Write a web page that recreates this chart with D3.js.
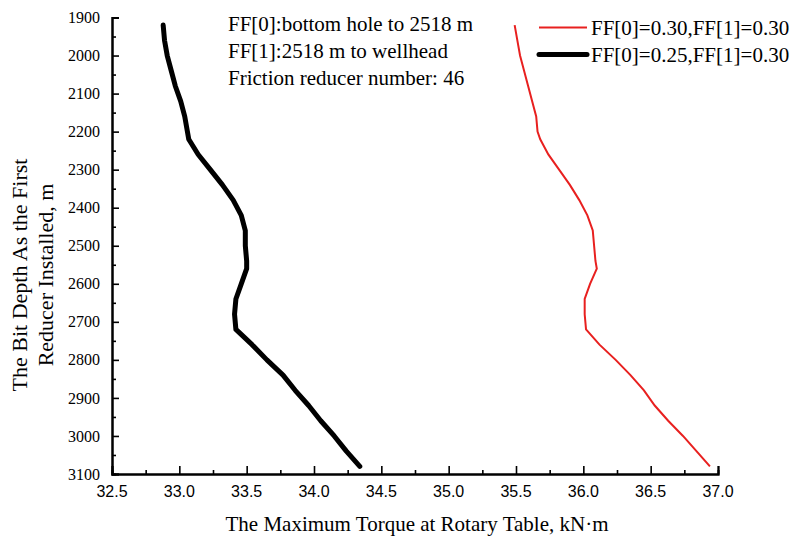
<!DOCTYPE html>
<html>
<head>
<meta charset="utf-8">
<script src="https://cdn.jsdelivr.net/npm/d3@7"></script>
<style>
  body { margin: 0; background: #fff; }
  svg { display: block; }
</style>
</head>
<body>
<div id="chart"></div>
<script>
// bit depth where the first reducer is installed, m
var depths = [1920, 1960, 2000, 2040, 2080, 2120, 2160, 2200, 2220, 2260, 2300,
    2340, 2380, 2420, 2460, 2500, 2540, 2560, 2600, 2640, 2680, 2720, 2760,
    2800, 2840, 2880, 2920, 2960, 3000, 3040, 3080];

// max torque, FF[0]=0.30, FF[1]=0.30
var torque_a = [35.49, 35.51, 35.53, 35.56, 35.59, 35.62, 35.65, 35.66, 35.68,
    35.74, 35.82, 35.90, 35.97, 36.03, 36.07, 36.08, 36.09, 36.10, 36.05, 36.01,
    36.01, 36.02, 36.12, 36.24, 36.35, 36.45, 36.53, 36.63, 36.74, 36.84, 36.94];

// max torque, FF[0]=0.25, FF[1]=0.30
var torque_b = [32.88, 32.89, 32.91, 32.94, 32.97, 33.01, 33.04, 33.06, 33.07,
    33.14, 33.23, 33.32, 33.40, 33.46, 33.49, 33.49, 33.50, 33.50, 33.46, 33.42,
    33.41, 33.42, 33.54, 33.65, 33.77, 33.86, 33.96, 34.05, 34.15, 34.24, 34.34];

var x_ticks = [32.5, 33.0, 33.5, 34.0, 34.5, 35.0, 35.5, 36.0, 36.5, 37.0];
var y_ticks = [1900, 2000, 2100, 2200, 2300, 2400, 2500, 2600, 2700, 2800, 2900, 3000, 3100];

var series_names = ["FF[0]=0.30,FF[1]=0.30", "FF[0]=0.25,FF[1]=0.30"];
var notes = ["FF[0]:bottom hole to 2518 m", "FF[1]:2518 m to wellhead", "Friction reducer number: 46"];

var w = 792, h = 539,
    m = { top: 17.5, right: 74, bottom: 65, left: 112 };

var serif = "'Liberation Serif', 'Times New Roman', serif",
    sans = "'Liberation Sans', Arial, sans-serif";

var svg = d3.select("#chart")
    .append("svg")
    .attr("width", w)
    .attr("height", h);

var x = d3.scaleLinear().domain([32.5, 37.0]).range([m.left, w - m.right]);
var y = d3.scaleLinear().domain([1900, 3100]).range([m.top, h - m.bottom]);

// minor ticks halfway between majors
var x_minor = d3.range(32.75, 37.0, 0.5);
var y_minor = d3.range(1950, 3100, 100);

// x axis, ticks point inward
var xg = svg.append("g")
    .attr("transform", "translate(0," + y(3100) + ")");
xg.append("g").call(d3.axisTop(x).tickValues(x_minor).tickSize(4).tickFormat(""));
xg.append("g").call(d3.axisTop(x).tickValues(x_ticks).tickSize(8).tickFormat(""));
xg.selectAll("path.domain").attr("stroke-width", 2);
xg.selectAll("line").attr("stroke-width", 1.6);

// x tick labels
svg.append("g").selectAll("text")
    .data(x_ticks)
    .enter().append("text")
    .attr("x", function(d) { return x(d); })
    .attr("y", y(3100) + 23)
    .attr("text-anchor", "middle")
    .style("font-family", sans)
    .style("font-size", "16px")
    .text(function(d) { return d.toFixed(1); });

// y axis, ticks point inward
var yg = svg.append("g")
    .attr("transform", "translate(" + x(32.5) + ",0)");
yg.append("g").call(d3.axisRight(y).tickValues(y_minor).tickSize(4).tickFormat(""));
yg.append("g").call(d3.axisRight(y).tickValues(y_ticks).tickSize(7).tickFormat(""));
yg.selectAll("path.domain").attr("stroke-width", 2);
yg.selectAll("line").attr("stroke-width", 1.6);

// y tick labels
svg.append("g").selectAll("text")
    .data(y_ticks)
    .enter().append("text")
    .attr("x", x(32.5) - 12)
    .attr("y", function(d) { return y(d); })
    .attr("dy", ".35em")
    .attr("text-anchor", "end")
    .style("font-family", serif)
    .style("font-size", "16px")
    .text(function(d) { return d; });

// axis titles
svg.append("text")
    .attr("x", (x(32.5) + x(37.0)) / 2 + 2)
    .attr("y", 531)
    .attr("text-anchor", "middle")
    .style("font-family", serif)
    .style("font-size", "21px")
    .text("The Maximum Torque at Rotary Table, kN\u00b7m");

var yt = svg.append("text")
    .attr("transform", "translate(27,275) rotate(-90)")
    .attr("text-anchor", "middle")
    .style("font-family", serif)
    .style("font-size", "22px");
yt.append("tspan").attr("x", 0).attr("y", 0).text("The Bit Depth As the First");
yt.append("tspan").attr("x", 0).attr("y", 26).text("Reducer Installed, m");

// the two curves
var line = d3.line()
    .x(function(d) { return x(d[1]); })
    .y(function(d) { return y(d[0]); });

svg.append("path")
    .datum(d3.zip(depths, torque_a))
    .attr("d", line)
    .attr("fill", "none")
    .attr("stroke", "#e8201f")
    .attr("stroke-width", 2);

svg.append("path")
    .datum(d3.zip(depths, torque_b))
    .attr("d", line)
    .attr("fill", "none")
    .attr("stroke", "#000")
    .attr("stroke-width", 5)
    .attr("stroke-linejoin", "round")
    .attr("stroke-linecap", "round");

// notes in the top left
svg.append("g").selectAll("text")
    .data(notes)
    .enter().append("text")
    .attr("x", 228)
    .attr("y", function(d, i) { return 31 + i * 27; })
    .style("font-family", serif)
    .style("font-size", "21px")
    .text(function(d) { return d; });

// legend
var legend_groups = svg.append("g").selectAll(".legend")
    .data(series_names)
    .enter().append("g")
    .attr("class", "legend")
    .attr("transform", function(d, i) {
        return "translate(0," + (27.5 + i * 27) + ")";
    });

legend_groups.append("line")
    .attr("x1", 539)
    .attr("x2", 587)
    .attr("stroke", function(d, i) { return i == 0 ? "#e8201f" : "#000"; })
    .attr("stroke-width", function(d, i) { return i == 0 ? 2 : 5; })
    .attr("stroke-linecap", function(d, i) { return i == 0 ? "butt" : "round"; });

legend_groups.append("text")
    .attr("x", 591)
    .attr("y", 7.5)
    .style("font-family", serif)
    .style("font-size", "21px")
    .text(function(d) { return d; });
</script>
</body>
</html>
